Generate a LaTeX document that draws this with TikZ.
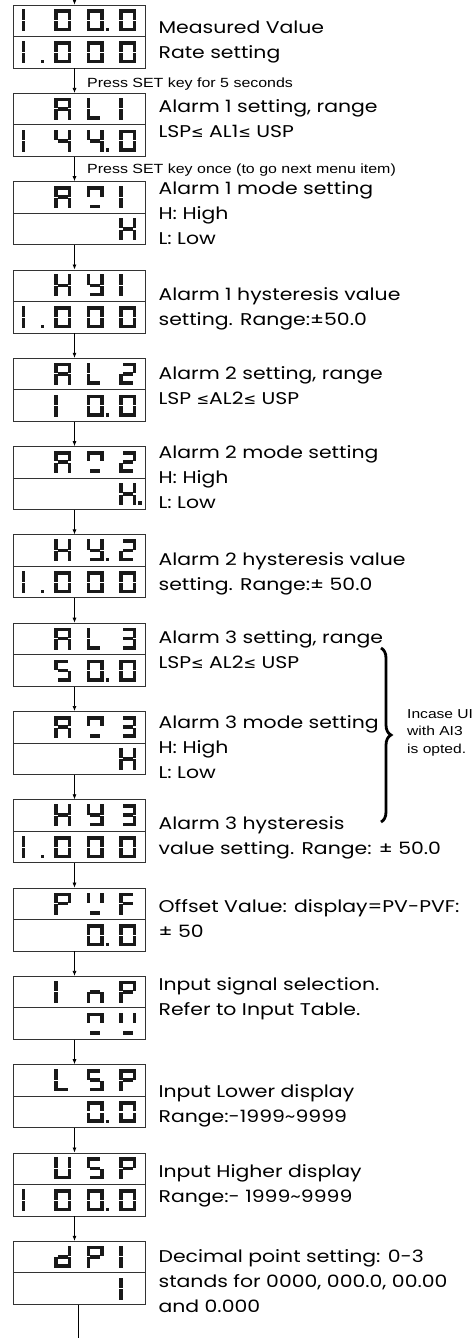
\documentclass[tikz,border=0pt]{standalone}
\usepackage{fontspec}
\setmainfont[FakeStretch=1.2]{Poppins}
\newfontfamily\arialfont[FakeStretch=1.2]{Liberation Sans}
\newfontfamily\symfont{DejaVu Sans}
\usetikzlibrary{positioning, arrows.meta, decorations.pathreplacing}

% segments of one display digit, origin at its lower left
\def\sega{(3.6,18.4) rectangle (13.4,22)}
\def\segb{(13.4,11.6) rectangle (17,22)}
\def\segc{(13.4,0) rectangle (17,10.4)}
\def\segd{(3.6,0) rectangle (13.4,3.6)}
\def\sege{(0,0) rectangle (3.6,10.4)}
\def\segf{(0,11.6) rectangle (3.6,22)}
\def\segg{(3.6,9.2) rectangle (13.4,12.8)}
\def\segp{(19,0) rectangle (22.5,3.5)}
\def\segn{(0,0)}

% glyphs as lists of segments
\def\sdblank{n}
\def\sdzero{a,b,c,d,e,f}
\def\sdzerop{a,b,c,d,e,f,p}
\def\sdone{e,f}
\def\sdonep{e,f,p}
\def\sdtwo{a,b,g,e,d}
\def\sdthree{a,b,c,d,g}
\def\sdfour{b,c,f,g}
\def\sdfourp{b,c,f,g,p}
\def\sdfive{a,c,d,f,g}
\def\sdA{a,b,c,e,f,g}
\def\sdL{d,e,f}
\def\sdH{b,c,e,f,g}
\def\sdHp{b,c,e,f,g,p}
\def\sdy{b,c,d,f,g}
\def\sdyp{b,c,d,f,g,p}
\def\sdP{a,b,e,f,g}
\def\sdF{a,e,f,g}
\def\sdn{c,e,g}
\def\sdU{b,c,d,e,f}
\def\sdd{b,c,d,e,g}
\def\sdm{a,b,f,d}
\def\sdV{b,f,d}

\newcommand{\dcell}[2]{%
  \begin{scope}[xshift={9+32.5*#1}, yshift=5]
    \foreach \s in #2{\expandafter\let\expandafter\segpath\csname seg\s\endcsname
      \fill[black!90] \segpath;}
  \end{scope}}
\newcommand{\drow}[5]{%
  \begin{scope}[shift={(#1)}]
    \dcell{0}{#2}\dcell{1}{#3}\dcell{2}{#4}\dcell{3}{#5}
  \end{scope}}
\newcommand{\lesym}{{\symfont\fontsize{15}{15}\selectfont ≤}}

\begin{document}
\begin{tikzpicture}[
    x=1pt, y=1pt,
    node distance=24.5pt,
    disp/.style={draw=black!80, line width=0.8pt, minimum width=132pt, minimum height=63pt, inner sep=0pt,
      path picture={\draw[black!80, line width=0.8pt] (path picture bounding box.west) -- (path picture bounding box.east);}},
    lbl/.style={anchor=base west, align=left, inner sep=0pt, font=\fontsize{17}{25}\selectfont},
    note/.style={anchor=base west, align=left, inner sep=0pt, font=\arialfont\fontsize{13.3}{17.5}\selectfont},
    side/.style={anchor=base west, align=left, inner sep=0pt, font=\arialfont\fontsize{13}{17.5}\selectfont},
    arrow/.style={-{Latex[length=5pt, width=4pt]}, line width=0.7pt},
    brace/.style={decorate, decoration={brace, amplitude=10pt}, line width=2.8pt}
  ]
    \useasboundingbox (0,0) rectangle (475,-1338);

    % Displays
    \node[disp] (pv) at (79,-36.5) {};
    \node[disp, below=of pv] (al1) {};
    \node[disp, below=of al1] (am1) {};
    \node[disp, below=of am1] (hy1) {};
    \node[disp, below=of hy1] (al2) {};
    \node[disp, below=of al2] (am2) {};
    \node[disp, below=of am2] (hy2) {};
    \node[disp, below=of hy2] (al3) {};
    \node[disp, below=of al3] (am3) {};
    \node[disp, below=of am3] (hy3) {};
    \node[disp, below=of hy3] (pvf) {};
    \node[disp, below=of pvf] (inp) {};
    \node[disp, below=of inp] (lsp) {};
    \node[disp, below=of lsp] (usp) {};
    \node[disp, below=of usp] (dpi) {};

    % Digits
    \drow{pv.west}{\sdone}{\sdzero}{\sdzerop}{\sdzero}
    \drow{pv.south west}{\sdonep}{\sdzero}{\sdzero}{\sdzero}
    \drow{al1.west}{\sdblank}{\sdA}{\sdL}{\sdone}
    \drow{al1.south west}{\sdone}{\sdfour}{\sdfourp}{\sdzero}
    \drow{am1.west}{\sdblank}{\sdA}{\sdm}{\sdone}
    \drow{am1.south west}{\sdblank}{\sdblank}{\sdblank}{\sdH}
    \drow{hy1.west}{\sdblank}{\sdH}{\sdy}{\sdone}
    \drow{hy1.south west}{\sdonep}{\sdzero}{\sdzero}{\sdzero}
    \drow{al2.west}{\sdblank}{\sdA}{\sdL}{\sdtwo}
    \drow{al2.south west}{\sdblank}{\sdone}{\sdzerop}{\sdzero}
    \drow{am2.west}{\sdblank}{\sdA}{\sdm}{\sdtwo}
    \drow{am2.south west}{\sdblank}{\sdblank}{\sdblank}{\sdHp}
    \drow{hy2.west}{\sdblank}{\sdH}{\sdyp}{\sdtwo}
    \drow{hy2.south west}{\sdonep}{\sdzero}{\sdzero}{\sdzero}
    \drow{al3.west}{\sdblank}{\sdA}{\sdL}{\sdthree}
    \drow{al3.south west}{\sdblank}{\sdfive}{\sdzerop}{\sdzero}
    \drow{am3.west}{\sdblank}{\sdA}{\sdm}{\sdthree}
    \drow{am3.south west}{\sdblank}{\sdblank}{\sdblank}{\sdH}
    \drow{hy3.west}{\sdblank}{\sdH}{\sdy}{\sdthree}
    \drow{hy3.south west}{\sdonep}{\sdzero}{\sdzero}{\sdzero}
    \drow{pvf.west}{\sdblank}{\sdP}{\sdV}{\sdF}
    \drow{pvf.south west}{\sdblank}{\sdblank}{\sdzerop}{\sdzero}
    \drow{inp.west}{\sdblank}{\sdone}{\sdn}{\sdP}
    \drow{inp.south west}{\sdblank}{\sdblank}{\sdm}{\sdV}
    \drow{lsp.west}{\sdblank}{\sdL}{\sdfive}{\sdP}
    \drow{lsp.south west}{\sdblank}{\sdblank}{\sdzerop}{\sdzero}
    \drow{usp.west}{\sdblank}{\sdU}{\sdfive}{\sdP}
    \drow{usp.south west}{\sdone}{\sdzero}{\sdzerop}{\sdzero}
    \drow{dpi.west}{\sdblank}{\sdd}{\sdP}{\sdone}
    \drow{dpi.south west}{\sdblank}{\sdblank}{\sdblank}{\sdone}

    % Descriptions (base = baseline of the last line)
    \node[lbl] (pvtxt) at ([xshift=13pt, yshift=-54pt]pv.north east) {Measured Value\\Rate setting};
    \node[lbl] (al1txt) at ([xshift=13pt, yshift=-44.5pt]al1.north east) {Alarm 1 setting, range\\LSP\lesym{} AL1\lesym{} USP};
    \node[lbl] (am1txt) at ([xshift=13pt, yshift=-63pt]am1.north east) {Alarm 1 mode setting\\H: High\\L: Low};
    \node[lbl] (hy1txt) at ([xshift=13pt, yshift=-55.5pt]hy1.north east) {Alarm 1 hysteresis value\\setting. Range:±50.0};
    \node[lbl] (al2txt) at ([xshift=13pt, yshift=-47pt]al2.north east) {Alarm 2 setting, range\\LSP \lesym AL2\lesym{} USP};
    \node[lbl] (am2txt) at ([xshift=13pt, yshift=-62.5pt]am2.north east) {Alarm 2 mode setting\\H: High\\L: Low};
    \node[lbl] (hy2txt) at ([xshift=13pt, yshift=-56pt]hy2.north east) {Alarm 2 hysteresis value\\setting. Range:± 50.0};
    \node[lbl] (al3txt) at ([xshift=13pt, yshift=-45.5pt]al3.north east) {Alarm 3 setting, range\\LSP\lesym{} AL2\lesym{} USP};
    \node[lbl] (am3txt) at ([xshift=13pt, yshift=-67pt]am3.north east) {Alarm 3 mode setting\\H: High\\L: Low};
    \node[lbl] (hy3txt) at ([xshift=13pt, yshift=-55.5pt]hy3.north east) {Alarm 3 hysteresis\\value setting. Range: ± 50.0};
    \node[lbl] (pvftxt) at ([xshift=13pt, yshift=-50pt]pvf.north east) {Offset Value: display=PV-PVF:\\± 50};
    \node[lbl] (inptxt) at ([xshift=13pt, yshift=-39.5pt]inp.north east) {Input signal selection.\\Refer to Input Table.};
    \node[lbl] (lsptxt) at ([xshift=13pt, yshift=-58pt]lsp.north east) {Input Lower display\\Range:-1999\textasciitilde 9999};
    \node[lbl] (usptxt) at ([xshift=13pt, yshift=-49.5pt]usp.north east) {Input Higher display\\Range:- 1999\textasciitilde 9999};
    \node[lbl] (dpitxt) at ([xshift=13pt, yshift=-72pt]dpi.north east) {Decimal point setting: 0-3\\stands for 0000, 000.0, 00.00\\and 0.000};

    % Key notes
    \node[note] (press5) at ([xshift=8pt, yshift=-19pt]pv.south) {Press SET key for 5 seconds};
    \node[note] (press1) at ([xshift=8pt, yshift=-17pt]al1.south) {Press SET key once (to go next menu item)};
    \draw[brace] (381,-648) -- (381,-822);
    \node[side] (opted) at (407,-753) {Incase UI\\with AI3\\is opted.};

    % Arrows
    \coordinate (entry) at (74.5,0);
    \coordinate (exit) at (78,-1338);
    \draw[arrow] (entry) -- ([xshift=-4.5pt]pv.north);
    \draw[arrow] ([xshift=-4.5pt]pv.south) -- ([xshift=-4.5pt]al1.north);
    \draw[arrow] ([xshift=-4.5pt]al1.south) -- ([xshift=-4.5pt]am1.north);
    \draw[arrow] ([xshift=-4.5pt]am1.south) -- ([xshift=-4.5pt]hy1.north);
    \draw[arrow] ([xshift=-4.5pt]hy1.south) -- ([xshift=-4.5pt]al2.north);
    \draw[arrow] ([xshift=-4.5pt]al2.south) -- ([xshift=-4.5pt]am2.north);
    \draw[arrow] ([xshift=-4.5pt]am2.south) -- ([xshift=-4.5pt]hy2.north);
    \draw[arrow] ([xshift=-4.5pt]hy2.south) -- ([xshift=-4.5pt]al3.north);
    \draw[arrow] ([xshift=-4.5pt]al3.south) -- ([xshift=-4.5pt]am3.north);
    \draw[arrow] ([xshift=-4.5pt]am3.south) -- ([xshift=-4.5pt]hy3.north);
    \draw[arrow] ([xshift=-4.5pt]hy3.south) -- ([xshift=-4.5pt]pvf.north);
    \draw[arrow] ([xshift=-4.5pt]pvf.south) -- ([xshift=-4.5pt]inp.north);
    \draw[arrow] ([xshift=-4.5pt]inp.south) -- ([xshift=-4.5pt]lsp.north);
    \draw[arrow] ([xshift=-4.5pt]lsp.south) -- ([xshift=-4.5pt]usp.north);
    \draw[arrow] ([xshift=-4.5pt]usp.south) -- ([xshift=-4.5pt]dpi.north);
    \draw[line width=0.7pt] ([xshift=-1pt]dpi.south) -- (exit);
  \end{tikzpicture}
\end{document}
